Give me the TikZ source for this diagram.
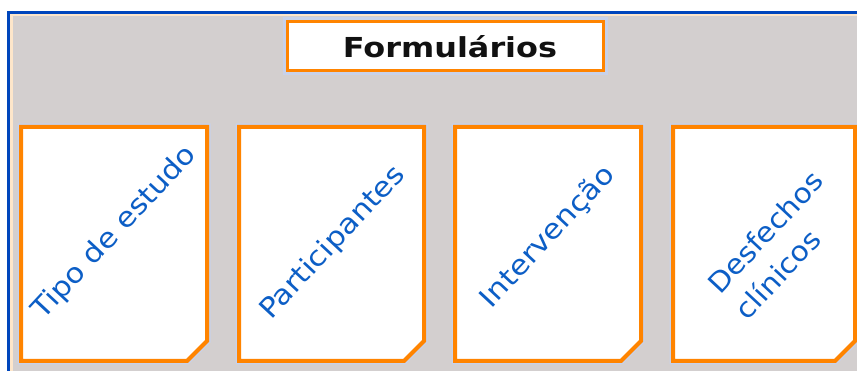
\documentclass[tikz,border=0pt]{standalone}
\usepackage{fontspec}
\usepackage{graphicx}
\setmainfont{DejaVu Sans}
\definecolor{panelgray}{HTML}{D3CFCF}
\definecolor{frameblue}{HTML}{0046BC}
\definecolor{cream}{HTML}{FDE6CA}
\definecolor{cardorange}{HTML}{FF8400}
\definecolor{halo}{HTML}{C8D2EA}
\definecolor{textblue}{HTML}{0C5EC6}
\definecolor{titleblack}{HTML}{111111}
\tikzset{
  cardline/.style={draw=cardorange, line width=4pt, fill=white, line join=miter},
  cardhalo/.style={draw=halo, line width=7pt, line join=miter},
  cardtext/.style={text=textblue, rotate=47, inner sep=0pt, align=left,
    font=\fontsize{27.5}{38}\selectfont},
  titlebox/.style={draw=cardorange, line width=3.5pt, fill=white, minimum width=316pt,
    minimum height=49pt, inner sep=0pt},
  titletext/.style={text=titleblack, inner sep=0pt, font=\fontsize{27.5}{33}\selectfont\bfseries}
}
\newcommand{\formcard}[2]{%
  \draw[cardhalo] (#1,127) -- (#2,127) -- (#2,341) -- ({#2-20},361) -- (#1,361) -- cycle;
  \draw[cardline] (#1,127) -- (#2,127) -- (#2,341) -- ({#2-20},361) -- (#1,361) -- cycle;}
\begin{document}
\begin{tikzpicture}[x=1pt,y=-1pt]
\useasboundingbox (0,0) rectangle (857,371);
\fill[white] (0,0) rectangle (857,371);
% panel
\fill[cream] (10,14) rectangle (857,371);
\fill[panelgray] (12.5,16.5) rectangle (857,371);
\fill[frameblue] (7,11) rectangle (857,14);
\fill[frameblue] (7,11) rectangle (10,371);
% title
\draw[halo, line width=6pt] (286,20) rectangle (605,72);
\node[titlebox] (title) at (445.5,46) {};
\node[titletext, anchor=base] (titlelabel) at (450,58) {\scalebox{1.16}[1]{Formulários}};
% cards
\formcard{21}{207}
\formcard{239}{424}
\formcard{455}{641}
\formcard{673}{855}
\node[cardtext] (tipo) at (115,233) {\scalebox{1.11}[1]{Tipo de estudo}};
\node[cardtext] (part) at (333,243) {\scalebox{1.11}[1]{Participantes}};
\node[cardtext] (interv) at (548,237) {\scalebox{1.11}[1]{Intervenção}};
\node[cardtext] (desf) at (779,245) {\scalebox{1.08}[1]{Desfechos}\\\scalebox{1.08}[1]{clínicos}};
\end{tikzpicture}
\end{document}
